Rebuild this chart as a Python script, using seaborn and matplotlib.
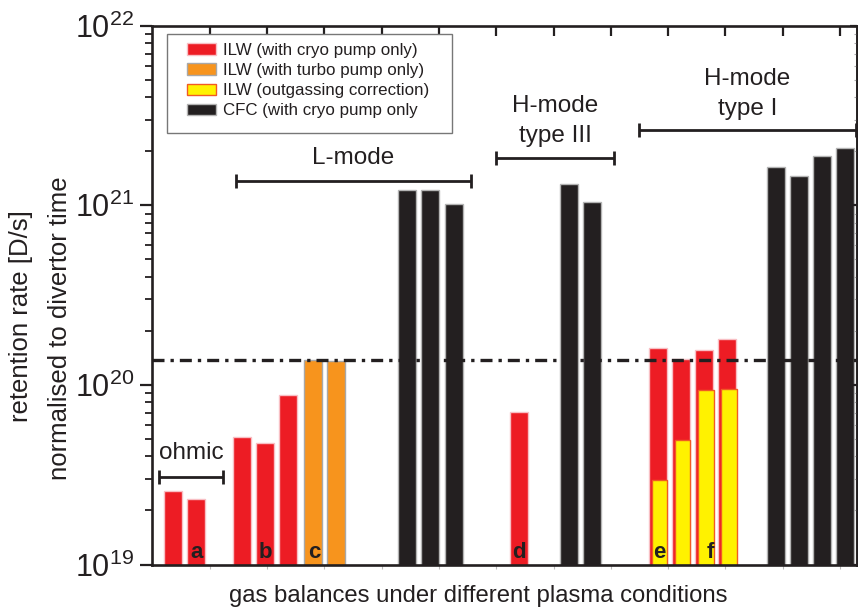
import numpy as np
import pandas as pd
import matplotlib
matplotlib.use("Agg")
import matplotlib.pyplot as plt
from matplotlib.patches import Patch, Rectangle
import seaborn as sns

# ---------------- data ----------------
red_pos = [0, 1, 3, 4, 5, 15, 21, 22, 23, 24]
red_val = [2.57e19, 2.33e19, 5.12e19, 4.74e19, 8.8e19, 7.1e19, 1.61e20, 1.40e20, 1.56e20, 1.80e20]
orange_pos = [6.05, 7.05]
orange_val = [1.37e20, 1.36e20]
yellow_pos = [21.08, 22.08, 23.08, 24.08]
yellow_val = [2.97e19, 4.94e19, 9.35e19, 9.46e19]
black_pos = [10.15, 11.15, 12.15, 17.15, 18.15, 26.1, 27.1, 28.1, 29.1]
black_val = [1.22e21, 1.21e21, 1.02e21, 1.31e21, 1.04e21, 1.64e21, 1.45e21, 1.88e21, 2.09e21]
threshold = 1.38e20

legend_labels = ["ILW (with cryo pump only)", "ILW (with turbo pump only)",
                 "ILW (outgassing correction)", "CFC (with cryo pump only"]
letters = ["a", "b", "c", "d", "e", "f"]
letter_pos = [1, 4, 6.1, 15, 21.08, 23.25]

groups = ["ohmic", "L-mode", "H-mode\ntype III", "H-mode\ntype I"]
group_x0 = [-0.61, 2.73, 13.99, 20.18]
group_x1 = [2.17, 12.9, 19.1, 29.58]
group_y = [3.07e19, 1.37e21, 1.83e21, 2.62e21]
group_text_y = [4.18e19, 1.83e21, 2.95e21, 4.15e21]

# ---------------- style ----------------
sns.set_style("ticks")
plt.rcParams["font.family"] = ["Liberation Sans", "DejaVu Sans"]
plt.rcParams["mathtext.fontset"] = "custom"
plt.rcParams["mathtext.rm"] = "Liberation Sans"
plt.rcParams["mathtext.it"] = "Liberation Sans:italic"
plt.rcParams["mathtext.bf"] = "Liberation Sans:bold"

INK = "#231F20"
RED = "#ED1C24"
ORANGE = "#F7941D"
YELLOW = "#FFF200"
BLACK = "#231F20"

fig = plt.figure(figsize=(8.58, 6.12), dpi=100)
ax = fig.add_axes([0.1766, 0.0776, 0.8222, 0.8804])

def bars(pos, val, color, edge, width, lw):
    df = pd.DataFrame({"pos": pos, "value": val})
    sns.barplot(data=df, x="pos", y="value", native_scale=True, width=width,
                color=color, edgecolor=edge, linewidth=lw, saturation=1,
                errorbar=None, ax=ax)

bars(red_pos, red_val, RED, "#F8BFC4", 0.78, 1.0)
bars(orange_pos, orange_val, ORANGE, "#A8A8A8", 0.78, 1.0)
bars(black_pos, black_val, BLACK, "#B4B4B4", 0.78, 1.0)
bars(yellow_pos, yellow_val, YELLOW, "#F15A24", 0.66, 1.0)

ax.set_yscale("log")
ax.set_ylim(1e19, 1e22)
ax.set_xlim(-0.93, 29.62)
ax.set_xlabel("")
ax.set_ylabel("")

# threshold line
ax.axhline(threshold, color=INK, lw=2.4, linestyle=(0, (3.6, 1.8, 1.0, 1.8)), zorder=5)

# spines
for s in ax.spines.values():
    s.set_linewidth(1.9)
    s.set_color(INK)

# left y ticks (outward)
ax.tick_params(axis="y", which="major", direction="out", length=8.5, width=1.6,
               color=INK, labelsize=22, pad=4, labelcolor=INK, right=False)
ax.tick_params(axis="y", which="minor", direction="out", length=5, width=1.3,
               color=INK, right=False)
# bottom x ticks
xt = np.arange(1.6, 29.6, 2.48)
ax.set_xticks(xt)
ax.set_xticklabels([])
ax.tick_params(axis="x", which="major", direction="out", length=3, width=0.8,
               color="#BBBBBB", top=False)
ax.minorticks_off()
ax.yaxis.set_minor_locator(matplotlib.ticker.LogLocator(base=10, subs=np.arange(2, 10)))
ax.yaxis.set_minor_formatter(matplotlib.ticker.NullFormatter())

# top ticks (inward)
axt = ax.secondary_xaxis("top")
axt.set_xticks(xt)
axt.set_xticklabels([])
axt.tick_params(direction="in", length=7, width=1.6, color=INK)
axt.spines["top"].set_visible(False)

# right ticks (inward)
axr = ax.twinx()
axr.set_yscale("log")
axr.set_ylim(1e19, 1e22)
axr.tick_params(axis="y", which="major", direction="in", length=5, width=1.6,
                color=INK, labelright=False)
axr.tick_params(axis="y", which="minor", direction="in", length=2, width=0.8,
                color="#AAAAAA")
axr.yaxis.set_minor_locator(matplotlib.ticker.LogLocator(base=10, subs=np.arange(2, 10)))
axr.yaxis.set_minor_formatter(matplotlib.ticker.NullFormatter())
for s in axr.spines.values():
    s.set_visible(False)
axr.spines["right"].set_visible(True)
axr.spines["right"].set_linewidth(1.9)
axr.spines["right"].set_color(INK)

# letters
trans = matplotlib.transforms.blended_transform_factory(ax.transData, ax.transAxes)
for lab, xp in zip(letters, letter_pos):
    ax.text(xp, 0.012, lab, transform=trans, ha="center", va="baseline",
            fontsize=16, fontweight="bold", color=INK, zorder=6)

# group brackets
for name, x0, x1, gy, ty in zip(groups, group_x0, group_x1, group_y, group_text_y):
    ax.errorbar([(x0 + x1) / 2], [gy], xerr=[[(x1 - x0) / 2], [(x1 - x0) / 2]],
                fmt="none", ecolor=INK, elinewidth=2.0, capsize=5, capthick=2.0,
                zorder=6, clip_on=False)
    ax.text((x0 + x1) / 2, ty, name, ha="center", va="center", fontsize=17.5,
            color=INK, linespacing=1.45)

# legend (frame drawn separately)
handles = [Patch(facecolor=RED, edgecolor="#F8BFC4", lw=1.0),
           Patch(facecolor=ORANGE, edgecolor="#A8A8A8", lw=1.0),
           Patch(facecolor=YELLOW, edgecolor="#F15A24", lw=1.0),
           Patch(facecolor=BLACK, edgecolor="#B4B4B4", lw=1.0)]
leg = ax.legend(handles, legend_labels, loc="upper left", bbox_to_anchor=(0.0503, 0.968),
                borderaxespad=0, borderpad=0, fontsize=12.2, frameon=False,
                handlelength=1.7, handleheight=0.65, handletextpad=0.4,
                labelspacing=0.3)
for t in leg.get_texts():
    t.set_color(INK)
leg.set_zorder(10)
ax.add_patch(Rectangle((0.022, 0.8009), 0.404, 0.1837, transform=ax.transAxes,
                       facecolor="white", edgecolor="#777777", lw=1.0, zorder=9))

# axis labels
fig.text(21 / 858, 1 - 316 / 612, "retention rate [D/s]", rotation=90, ha="center",
         va="center", fontsize=18.5, color=INK)
fig.text(60 / 858, 1 - 328 / 612, "normalised to divertor time", rotation=90,
         ha="center", va="center", fontsize=18.5, color=INK)
fig.text(0.557, 0.026, "gas balances under different plasma conditions", ha="center",
         va="center", fontsize=17.2, color=INK)

fig.savefig("out.png", dpi=100)
